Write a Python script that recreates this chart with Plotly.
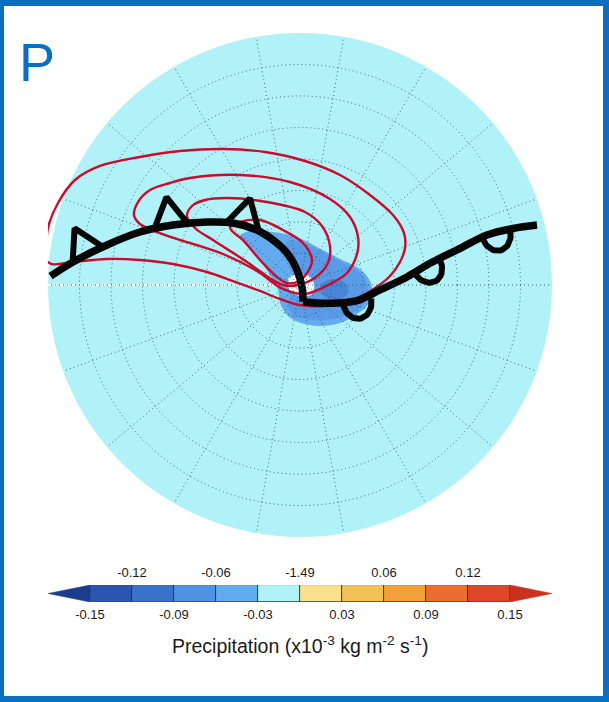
import numpy as np
import plotly.graph_objects as go

# ---------------------------------------------------------------------------
# Map data, in map units (degrees from the pole; x points east, y north)
# ---------------------------------------------------------------------------
MAP_RADIUS = 40          # outer edge of the polar map
RING_STEP = 5            # latitude circles
SPOKE_STEP = 20          # meridians

# cold front (triangles on the poleward side)
cold_x = [-39.6, -36.03, -30.63, -25.40, -20.16, -14.76, -10.63, -6.83, -4.29, -2.06, -0.48, 0.32, 0.48]
cold_y = [1.4, 3.65, 6.35, 8.41, 9.52, 10.0, 9.84, 8.73, 7.14, 5.08, 2.38, -0.32, -2.65]
cold_marks = [6.85, 20.9, 32.4]          # distance along the front

# warm front (half discs on the equatorward side)
warm_x = [0.48, 2.86, 4.76, 7.14, 9.05, 12.70, 16.98, 20.63, 24.92, 29.68, 33.81, 37.62]
warm_y = [-2.65, -2.86, -2.90, -2.78, -2.49, -0.79, 1.27, 3.44, 5.56, 7.94, 8.97, 9.52]
warm_marks = [8.6, 21.0, 33.2]

# closed contours of the overlaid field, outermost first
contour1_x = [-40.32, -40.0, -38.41, -35.71, -31.75, -25.40, -19.05, -12.22, -5.56, 0.79, 6.35, 11.11,
              14.76, 16.51, 16.67, 15.87, 14.29, 11.43, 7.94, 3.97, 0.0, -3.17, -6.35, -10.63,
              -14.76, -20.16, -25.40, -30.63, -36.03, -39.37, -40.48]
contour1_y = [5.56, 9.05, 13.02, 16.67, 18.89, 20.32, 21.27, 21.59, 21.11, 19.68, 17.46, 14.29,
              11.11, 8.25, 5.87, 3.65, 1.43, -0.79, -2.54, -3.33, -3.17, -2.22, -0.95, 0.63,
              2.06, 3.33, 3.97, 4.13, 3.65, 3.33, 4.29]
contour2_x = [-26.35, -25.71, -23.81, -20.63, -17.46, -9.52, -1.59, 4.76, 7.94, 9.21, 9.05, 7.46,
              4.76, 0.79, -2.70, -6.83, -12.22, -17.46, -22.70, -25.40]
contour2_y = [11.11, 13.17, 15.08, 16.19, 16.98, 17.46, 16.35, 13.65, 10.79, 7.62, 4.92, 1.90,
              0.16, -1.43, -0.63, 2.22, 4.92, 6.67, 8.41, 9.68]
contour3_x = [-17.94, -17.14, -15.08, -11.59, -5.24, 0.79, 3.49, 4.76, 4.44, 2.54, -0.32, -2.70,
              -4.60, -8.41, -13.81, -16.67]
contour3_y = [10.95, 12.54, 13.49, 13.81, 13.17, 11.59, 9.37, 6.19, 3.49, 1.27, 0.0, 0.0,
              0.95, 3.65, 7.14, 9.05]
contour4_x = [-11.11, -9.52, -6.35, -2.70, 0.48, 1.90, 1.11, -0.48, -2.06, -3.65, -6.35, -9.05, -10.79]
contour4_y = [9.21, 10.0, 10.32, 8.73, 6.67, 3.97, 1.90, 0.48, 0.32, 1.27, 3.97, 7.14, 8.57]

# precipitation anomaly areas (x10^-3 kg m^-2 s^-1 bins)
precip_outer_x = [-9.52, -7.94, -4.29, -0.48, 2.70, 6.03, 9.52, 11.11, 11.43, 10.63, 9.05, 6.35,
                  2.86, -0.32, -2.06, -3.17, -3.49, -4.76, -6.67, -8.57]
precip_outer_y = [7.78, 8.57, 8.41, 7.62, 6.03, 4.29, 2.54, 0.63, -1.59, -3.33, -4.60, -6.03,
                  -6.51, -5.87, -4.76, -2.86, -0.79, 1.59, 4.29, 6.35]
precip_mid_x = [-1.90, 2.70, 6.03, 9.21, 10.63, 10.79, 9.84, 7.94, 5.24, 2.06, -0.63, -1.90,
                -1.59, -1.11, -1.27, -2.38]
precip_mid_y = [7.14, 5.71, 3.97, 2.22, 0.32, -1.75, -3.33, -4.60, -5.40, -5.56, -4.92, -3.49,
                -1.59, 0.79, 3.65, 5.87]
precip_core_x = [3.49, 5.56, 7.30, 7.62, 6.35, 4.29, 3.17]
precip_core_y = [0.32, 0.95, 0.16, -1.27, -2.22, -2.06, -0.95]
dry_patch_x = [-1.75, -0.3, 1.5, 2.25, 1.9, 0.2, -1.6]
dry_patch_y = [1.2, 1.6, 1.35, 0.0, -1.45, -1.75, -0.9]

# ---------------------------------------------------------------------------
# Colour scale
# ---------------------------------------------------------------------------
levels = [-0.15, -0.12, -0.09, -0.06, -0.03, 0.0, 0.03, 0.06, 0.09, 0.12, 0.15]
level_colors = ['#2b56b0', '#3a72c9', '#4f92e2', '#64aaef', '#b1f2f8',
                '#f9e08c', '#f3c158', '#f1a03c', '#ec6d32', '#e2462a']
under_color = '#1d3c8c'
over_color = '#c9321f'
top_tick_vals = [-0.12, -0.06, 0.0, 0.06, 0.12]
top_tick_text = ['-0.12', '-0.06', '-1.49', '0.06', '0.12']
bottom_tick_vals = [-0.15, -0.09, -0.03, 0.03, 0.09, 0.15]
bottom_tick_text = ['-0.15', '-0.09', '-0.03', '0.03', '0.09', '0.15']
cbar_title = 'Precipitation (x10<sup>-3</sup> kg m<sup>-2</sup> s<sup>-1</sup>)'
panel_label = 'P'

# ---------------------------------------------------------------------------
# Page geometry and styles
# ---------------------------------------------------------------------------
W, H = 609, 702
MAP_CX, MAP_CY, MAP_R_PX = 300, 285, 252
CB_LEFT, CB_RIGHT, CB_TOP, CB_BOTTOM = 48, 552, 585, 602
FONT = 'Liberation Sans, Arial, sans-serif'
FRAME = '#0b6fc1'
DISC = '#b1f2f8'
GRID = 'rgba(35,75,85,0.8)'
CONTOUR = '#cd0a2c'
FRONT = '#050505'
TEXT = '#1a1a1a'

map_xdom = [(MAP_CX - MAP_R_PX) / W, (MAP_CX + MAP_R_PX) / W]
map_ydom = [1 - (MAP_CY + MAP_R_PX) / H, 1 - (MAP_CY - MAP_R_PX) / H]


def along(xs, ys, s):
    """Point and unit tangent at distance s along a polyline."""
    xs = np.asarray(xs, float)
    ys = np.asarray(ys, float)
    seg = np.hypot(np.diff(xs), np.diff(ys))
    cum = np.concatenate([[0.0], np.cumsum(seg)])
    i = int(np.clip(np.searchsorted(cum, s, side='right') - 1, 0, len(seg) - 1))
    t = (s - cum[i]) / seg[i]
    px = xs[i] + t * (xs[i + 1] - xs[i])
    py = ys[i] + t * (ys[i + 1] - ys[i])
    return px, py, (xs[i + 1] - xs[i]) / seg[i], (ys[i + 1] - ys[i]) / seg[i]


def front_triangles(xs, ys, marks, base=5.4, height=4.7):
    ox, oy = [], []
    for s in marks:
        x0, y0, _, _ = along(xs, ys, s - base / 2)
        x1, y1, _, _ = along(xs, ys, s + base / 2)
        dx, dy = x1 - x0, y1 - y0
        L = np.hypot(dx, dy)
        nx, ny = -dy / L, dx / L            # left of the direction of travel
        mx, my = (x0 + x1) / 2, (y0 + y1) / 2
        ox += [x0, mx + nx * height, x1, None]
        oy += [y0, my + ny * height, y1, None]
    return ox, oy


def front_half_discs(xs, ys, marks, half_width=2.3, depth=2.9, n=31):
    ox, oy = [], []
    a = np.linspace(0, np.pi, n)
    for s in marks:
        cx, cy, tx, ty = along(xs, ys, s)
        nx, ny = ty, -tx                    # right of the direction of travel
        ox += list(cx + tx * half_width * np.cos(a) + nx * depth * np.sin(a)) + [None]
        oy += list(cy + ty * half_width * np.cos(a) + ny * depth * np.sin(a)) + [None]
    return ox, oy


def closed(v):
    return list(v) + [v[0]]


fig = go.Figure()

# precipitation areas
for xs, ys, col in [(precip_outer_x, precip_outer_y, level_colors[3]),
                    (precip_mid_x, precip_mid_y, '#5a9be8'),
                    (precip_core_x, precip_core_y, '#4a84d6'),
                    (dry_patch_x, dry_patch_y, '#f4fbfd')]:
    fig.add_trace(go.Scatter(x=closed(xs), y=closed(ys), mode='lines', fill='toself',
                             fillcolor=col, line=dict(width=0, color=col, shape='spline'),
                             hoverinfo='skip', showlegend=False))

# the 180 degree meridian seam
fig.add_trace(go.Scatter(x=[-MAP_RADIUS, -1.6], y=[0, 0], mode='lines',
                         line=dict(color='white', width=2.2, dash='dot'),
                         hoverinfo='skip', showlegend=False))

# contours
for xs, ys in [(contour1_x, contour1_y), (contour2_x, contour2_y),
               (contour3_x, contour3_y), (contour4_x, contour4_y)]:
    fig.add_trace(go.Scatter(x=closed(xs), y=closed(ys), mode='lines',
                             line=dict(color=CONTOUR, width=2.4, shape='spline', smoothing=1.0),
                             hoverinfo='skip', showlegend=False))

# fronts and their symbols
tri_x, tri_y = front_triangles(cold_x, cold_y, cold_marks)
semi_x, semi_y = front_half_discs(warm_x, warm_y, warm_marks)
for xs, ys, w, shp in [(cold_x, cold_y, 7.5, 'spline'), (warm_x, warm_y, 7.5, 'spline'),
                       (tri_x, tri_y, 6, 'linear'), (semi_x, semi_y, 6, 'linear')]:
    fig.add_trace(go.Scatter(x=xs, y=ys, mode='lines', connectgaps=False,
                             line=dict(color=FRONT, width=w, shape=shp),
                             hoverinfo='skip', showlegend=False))

# polar grid carrier
fig.add_trace(go.Scatterpolar(r=[0], theta=[0], mode='markers', marker=dict(size=1, opacity=0),
                              hoverinfo='skip', showlegend=False))

# colour bar: boxes, end triangles
lefts = levels[:-1]
widths = [b - a for a, b in zip(levels[:-1], levels[1:])]
fig.add_trace(go.Bar(orientation='h', base=lefts, x=widths, y=[0.5] * len(widths), width=1,
                     marker=dict(color=level_colors, line=dict(color='#2a2a2a', width=0.8)),
                     xaxis='x2', yaxis='y2', hoverinfo='skip', showlegend=False))
step = widths[0]
for edge, sgn, col in [(levels[0], -1, under_color), (levels[-1], 1, over_color)]:
    fig.add_trace(go.Scatter(x=[edge, edge + sgn * step, edge, edge], y=[0, 0.5, 1, 0],
                             mode='lines', fill='toself', fillcolor=col,
                             line=dict(color=col, width=0.5),
                             xaxis='x2', yaxis='y2', hoverinfo='skip', showlegend=False))
# carrier for the upper tick row
fig.add_trace(go.Scatter(x=[levels[0], levels[-1]], y=[0.5, 0.5], mode='markers',
                         marker=dict(size=1, opacity=0), xaxis='x3', yaxis='y2',
                         hoverinfo='skip', showlegend=False))

grid_style = dict(showgrid=True, gridcolor=GRID, gridwidth=1, griddash='1px,3px',
                  showline=False, ticks='', showticklabels=False)

cb_range = [levels[0] - step, levels[-1] + step]
tick_font = dict(size=13, family=FONT, color=TEXT)
fig.update_layout(
    width=W, height=H, margin=dict(l=0, r=0, t=0, b=0),
    paper_bgcolor='white', plot_bgcolor='rgba(0,0,0,0)',
    font=dict(family=FONT, color=TEXT),
    bargap=0,
    xaxis=dict(domain=map_xdom, range=[-MAP_RADIUS, MAP_RADIUS], visible=False, fixedrange=True),
    yaxis=dict(domain=map_ydom, range=[-MAP_RADIUS, MAP_RADIUS], visible=False, fixedrange=True),
    polar=dict(
        domain=dict(x=map_xdom, y=map_ydom),
        bgcolor='rgba(0,0,0,0)',
        radialaxis=dict(range=[0, MAP_RADIUS],
                        tickvals=list(range(RING_STEP, MAP_RADIUS, RING_STEP)), **grid_style),
        angularaxis=dict(tickvals=list(range(0, 360, SPOKE_STEP)), rotation=0,
                         direction='counterclockwise', **grid_style),
    ),
    xaxis2=dict(domain=[CB_LEFT / W, CB_RIGHT / W], range=cb_range,
                anchor='y2', side='bottom', showgrid=False, zeroline=False, showline=False,
                ticks='', ticklabelstandoff=3, tickvals=bottom_tick_vals,
                ticktext=bottom_tick_text, tickfont=tick_font, fixedrange=True),
    xaxis3=dict(domain=[CB_LEFT / W, CB_RIGHT / W], anchor='y2', side='top', range=cb_range,
                showgrid=False, zeroline=False, showline=False, ticks='', ticklabelstandoff=4,
                tickvals=top_tick_vals, ticktext=top_tick_text,
                tickfont=tick_font, fixedrange=True),
    yaxis2=dict(domain=[1 - CB_BOTTOM / H, 1 - CB_TOP / H], range=[0, 1], visible=False,
                fixedrange=True),
    shapes=[
        dict(type='circle', xref='x', yref='y', x0=-MAP_RADIUS, x1=MAP_RADIUS,
             y0=-MAP_RADIUS, y1=MAP_RADIUS, fillcolor=DISC, line=dict(width=0), layer='below'),
        # frame
        dict(type='rect', xref='paper', yref='paper', x0=0, x1=1, y0=1 - 6 / H, y1=1,
             fillcolor=FRAME, line=dict(width=0), layer='above'),
        dict(type='rect', xref='paper', yref='paper', x0=0, x1=1, y0=0, y1=6 / H,
             fillcolor=FRAME, line=dict(width=0), layer='above'),
        dict(type='rect', xref='paper', yref='paper', x0=0, x1=4 / W, y0=0, y1=1,
             fillcolor=FRAME, line=dict(width=0), layer='above'),
        dict(type='rect', xref='paper', yref='paper', x0=1 - 6 / W, x1=1, y0=0, y1=1,
             fillcolor=FRAME, line=dict(width=0), layer='above'),
    ],
    annotations=[
        dict(text=cbar_title, x=300 / W, y=1 - 645 / H, xref='paper', yref='paper',
             xanchor='center', yanchor='middle', showarrow=False,
             font=dict(size=19.5, family=FONT, color=TEXT)),
        dict(text=panel_label, x=17 / W, y=1 - 62 / H, xref='paper', yref='paper',
             xanchor='left', yanchor='middle', showarrow=False,
             font=dict(size=54, family=FONT, color=FRAME)),
    ],
)

fig.write_html('out.html')
